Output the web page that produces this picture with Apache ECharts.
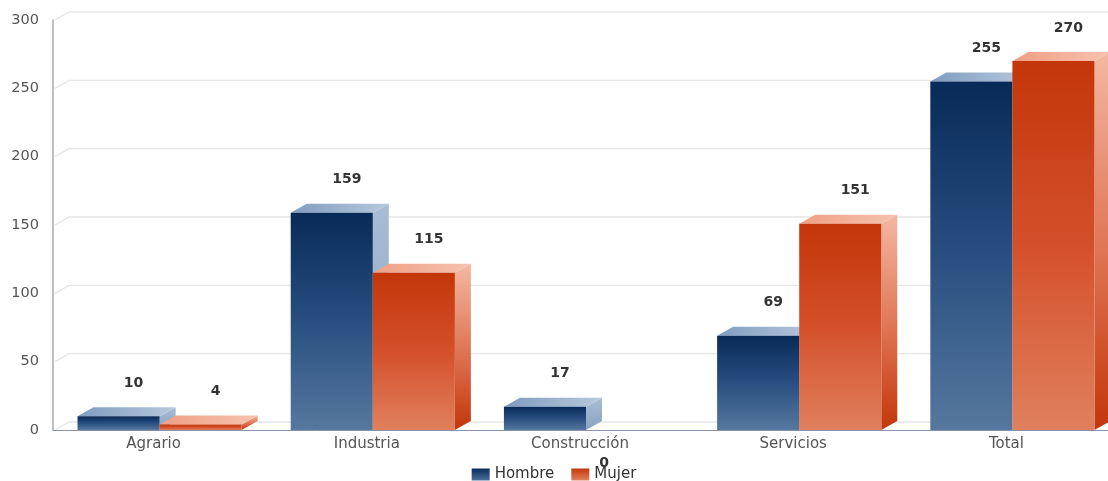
<!DOCTYPE html>
<html>
<head>
<meta charset="utf-8">
<script src="https://cdn.jsdelivr.net/npm/echarts@6/dist/echarts.min.js"></script>
<style>
html,body{margin:0;padding:0;background:#fff;}
#chart{width:1108px;height:481px;}
</style>
</head>
<body>
<div id="chart"></div>
<script>
const categories = ['Agrario', 'Industria', 'Construcción', 'Servicios', 'Total'];
const hombre = [10, 159, 17, 69, 255];
const mujer = [4, 115, 0, 151, 270];
const yTicks = [0, 50, 100, 150, 200, 250, 300];

const chart = echarts.init(document.getElementById('chart'));
const DX = 16, DY = 9;
const FONT = '"DejaVu Sans", Verdana, sans-serif';

function lg(stops, x2, y2) {
  return new echarts.graphic.LinearGradient(0, 0, x2, y2, stops.map((c, i) => ({offset: i / (stops.length - 1), color: c})));
}

const palettes = {
  hombre: {
    front: ['#082a58', '#284f80', '#56789e'],
    top: ['#7f9cc0', '#b7c8dc'],
    side: ['#a9bcd4', '#8aa3c2'],
    legend: ['#0a2d5c', '#4a6f98']
  },
  mujer: {
    front: ['#c3360a', '#d4502a', '#e0805e'],
    top: ['#ef9f84', '#f6c2ae'],
    side: ['#f3b8a2', '#e07858', '#c3360a'],
    legend: ['#c3360a', '#e0805e']
  }
};

function makeRender(sideIdx, pal) {
  return function (params, api) {
    const cat = api.value(0), v = api.value(1);
    const base = api.coord([cat, 0]);
    const top = api.coord([cat, v]);
    const band = api.size([1, 0])[0];
    const w = band * 0.385;
    const x0 = base[0] + sideIdx * w;
    const x1 = x0 + w;
    const yb = base[1], yt = top[1];
    const children = [];
    if (v > 0) {
      children.push({
        type: 'polygon',
        shape: {points: [[x1, yb], [x1 + DX, yb - DY], [x1 + DX, yt - DY], [x1, yt]]},
        style: {fill: lg(pal.side, 0, 1)}
      });
      children.push({
        type: 'polygon',
        shape: {points: [[x0, yt], [x0 + DX, yt - DY], [x1 + DX, yt - DY], [x1, yt]]},
        style: {fill: lg(pal.top, 1, 0)}
      });
      children.push({
        type: 'rect',
        shape: {x: x0, y: yt, width: w, height: yb - yt},
        style: {fill: lg(pal.front, 0, 1)}
      });
      children.push({
        type: 'text',
        style: {text: String(v), x: (x0 + x1) / 2 + 15, y: yt - 33, align: 'center', verticalAlign: 'middle',
          font: 'bold 14px ' + FONT, fill: '#333'}
      });
    } else {
      children.push({
        type: 'text',
        style: {text: String(v), x: base[0] + 18, y: yb + 33, align: 'center', verticalAlign: 'middle',
          font: 'bold 14px ' + FONT, fill: '#333'}
      });
    }
    return {type: 'group', children: children};
  };
}

function gridRender(params, api) {
  const v = api.value(1);
  const p = api.coord([0, v]);
  const band = api.size([1, 0])[0];
  const left = p[0] - band / 2;
  const right = api.coord([categories.length - 1, v])[0] + band / 2;
  return {
    type: 'polyline',
    shape: {points: [[left + 2, p[1]], [left + 16, p[1] - 8], [right, p[1] - 8]]},
    style: {stroke: '#e6e6e6', lineWidth: 1.3, fill: null}
  };
}

chart.setOption({
  backgroundColor: '#ffffff',
  animation: false,
  textStyle: {fontFamily: FONT},
  grid: {left: 53, width: 1066, top: 20, bottom: 51, outerBoundsMode: 'none', containLabel: false},
  legend: {
    bottom: -1,
    left: 'center',
    padding: [0, 5],
    data: ['Hombre', 'Mujer'],
    icon: 'rect',
    itemWidth: 18,
    itemHeight: 12,
    itemGap: 17,
    textStyle: {fontSize: 15, color: '#333', fontFamily: FONT}
  },
  xAxis: {
    type: 'category',
    data: categories,
    axisLine: {show: true, lineStyle: {color: '#8b90ad', width: 1}},
    axisTick: {show: false},
    axisLabel: {color: '#555', fontSize: 15, margin: 7, fontFamily: FONT, padding: [0, 12, 0, 0]},
    splitLine: {show: false}
  },
  yAxis: {
    type: 'value',
    min: 0,
    max: 300,
    interval: 50,
    axisLine: {show: true, lineStyle: {color: '#aaaaaa', width: 1.5}},
    axisTick: {show: false},
    axisLabel: {color: '#555', fontSize: 14.5, margin: 14, fontFamily: FONT},
    splitLine: {show: false}
  },
  series: [
    {
      type: 'custom',
      name: 'grid',
      silent: true,
      z: 0,
      renderItem: gridRender,
      data: yTicks.map(v => [0, v])
    },
    {
      type: 'custom',
      name: 'Hombre',
      z: 2,
      itemStyle: {color: lg(palettes.hombre.legend, 0, 1)},
      renderItem: makeRender(-1, palettes.hombre),
      data: hombre.map((v, i) => [i, v])
    },
    {
      type: 'custom',
      name: 'Mujer',
      z: 3,
      itemStyle: {color: lg(palettes.mujer.legend, 0, 1)},
      renderItem: makeRender(0, palettes.mujer),
      data: mujer.map((v, i) => [i, v])
    }
  ]
});
</script>
</body>
</html>
